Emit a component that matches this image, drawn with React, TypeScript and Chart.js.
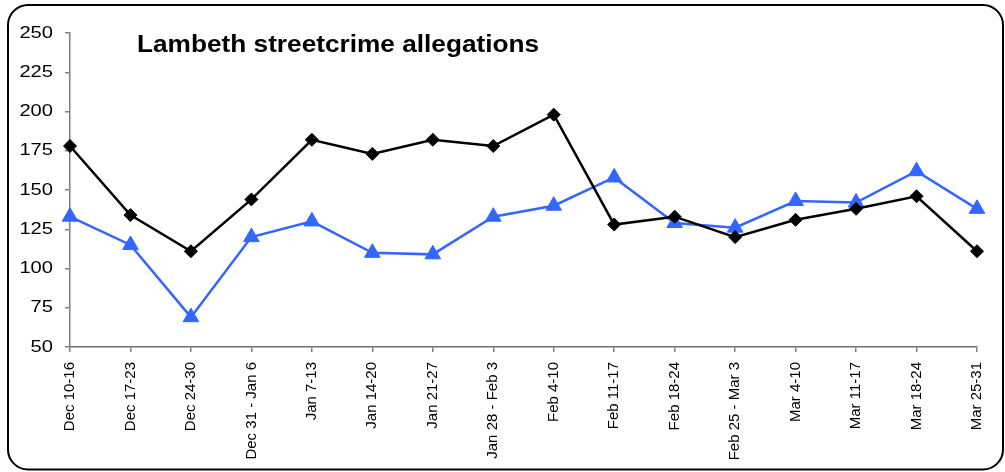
import React, { useEffect, useRef } from "react";
import { Chart, registerables } from "chart.js";

Chart.register(...registerables);

const TITLE = "Lambeth streetcrime allegations";

const categories = [
  "Dec 10-16",
  "Dec 17-23",
  "Dec 24-30",
  "Dec 31 - Jan 6",
  "Jan 7-13",
  "Jan 14-20",
  "Jan 21-27",
  "Jan 28 - Feb 3",
  "Feb 4-10",
  "Feb 11-17",
  "Feb 18-24",
  "Feb 25 - Mar 3",
  "Mar 4-10",
  "Mar 11-17",
  "Mar 18-24",
  "Mar 25-31",
];

const blackSeries = [178, 134, 111, 144, 182, 173, 182, 178, 198, 128, 133, 120, 131, 138, 146, 111];
const blueSeries = [133, 115, 69, 120, 130, 110, 109, 133, 140, 158, 129, 126, 143, 142, 162, 138];

const yMin = 50;
const yMax = 250;
const yStep = 25;

const FONT = '"Liberation Sans", Arial, sans-serif';

const decorPlugin = {
  id: "decor",
  beforeDraw(chart: any) {
    const ctx = chart.ctx;
    ctx.save();
    ctx.fillStyle = "#ffffff";
    ctx.fillRect(0, 0, chart.width, chart.height);
    ctx.restore();
  },
  afterDraw(chart: any) {
    const ctx = chart.ctx;
    // rounded frame
    ctx.save();
    ctx.strokeStyle = "#000000";
    ctx.lineWidth = 2;
    ctx.beginPath();
    ctx.roundRect(8, 5, 995, 464.5, 20);
    ctx.stroke();
    ctx.restore();

    // title
    ctx.save();
    ctx.fillStyle = "#000000";
    ctx.font = `bold 23px ${FONT}`;
    ctx.textAlign = "left";
    ctx.textBaseline = "alphabetic";
    ctx.translate(137, 52);
    ctx.scale(1.14, 1);
    ctx.fillText(TITLE, 0, 0);
    ctx.restore();

    // y tick labels (horizontally stretched like the original)
    const ys = chart.scales.y;
    ys.ticks.forEach((t: any) => {
      const py = ys.getPixelForValue(t.value);
      ctx.save();
      ctx.fillStyle = "#000000";
      ctx.font = `16.5px ${FONT}`;
      ctx.textAlign = "right";
      ctx.textBaseline = "middle";
      ctx.translate(53, py);
      ctx.scale(1.22, 1);
      ctx.fillText(String(t.value), 0, 0);
      ctx.restore();
    });
  },
};

export default function App() {
  const canvasRef = useRef<HTMLCanvasElement | null>(null);

  useEffect(() => {
    if (!canvasRef.current) return;
    const chart = new Chart(canvasRef.current, {
      type: "line",
      data: {
        labels: categories,
        datasets: [
          {
            label: "Black",
            data: blackSeries,
            borderColor: "#000000",
            backgroundColor: "#000000",
            borderWidth: 2.5,
            pointStyle: "rectRot",
            pointRadius: 6.5,
            pointBorderWidth: 1,
            pointBackgroundColor: "#000000",
            pointBorderColor: "#000000",
            tension: 0,
          },
          {
            label: "Blue",
            data: blueSeries,
            borderColor: "#3366ff",
            backgroundColor: "#3366ff",
            borderWidth: 2.5,
            pointStyle: "triangle",
            pointRadius: 9,
            pointBorderWidth: 1,
            pointBackgroundColor: "#3366ff",
            pointBorderColor: "#3366ff",
            tension: 0,
          },
        ],
      },
      options: {
        animation: false,
        responsive: true,
        maintainAspectRatio: false,
        devicePixelRatio: 1,
        layout: { padding: { top: 33, right: 17, left: 0, bottom: 0 } },
        plugins: {
          legend: { display: false },
          title: { display: false },
          tooltip: { enabled: false },
        },
        scales: {
          x: {
            offset: false,
            afterFit: (scale: any) => {
              scale.height = 125;
            },
            grid: {
              display: true,
              drawOnChartArea: false,
              drawTicks: true,
              tickLength: 5,
              color: "#808080",
              lineWidth: 1.5,
              offset: false,
            },
            border: { display: true, color: "#707070", width: 1.5 },
            ticks: {
              autoSkip: false,
              minRotation: 90,
              maxRotation: 90,
              padding: 10,
              color: "#000000",
              font: { family: FONT, size: 15 },
            },
          },
          y: {
            min: yMin,
            max: yMax,
            afterFit: (scale: any) => {
              scale.width = 70;
            },
            grid: {
              display: true,
              drawOnChartArea: false,
              drawTicks: true,
              tickLength: 5,
              color: "#808080",
              lineWidth: 1.5,
            },
            border: { display: true, color: "#808080", width: 1.5 },
            ticks: {
              stepSize: yStep,
              display: false,
            },
          },
        },
      },
      plugins: [decorPlugin],
    });
    return () => chart.destroy();
  }, []);

  return (
    <div
      style={{
        position: "absolute",
        left: 0,
        top: 0,
        width: 1005,
        height: 472,
        background: "#ffffff",
      }}
    >
      <canvas ref={canvasRef} />
    </div>
  );
}
